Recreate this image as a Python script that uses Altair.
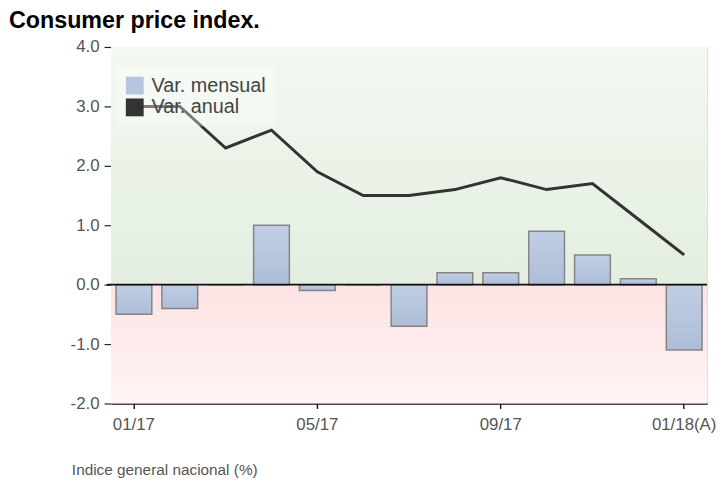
import altair as alt
import pandas as pd

months = ["01/17", "02/17", "03/17", "04/17", "05/17", "06/17", "07/17",
          "08/17", "09/17", "10/17", "11/17", "12/17", "01/18(A)"]
monthly = [-0.5, -0.4, 0.0, 1.0, -0.1, 0.0, -0.7, 0.2, 0.2, 0.9, 0.5, 0.1, -1.1]
annual = [3.0, 3.0, 2.3, 2.6, 1.9, 1.5, 1.5, 1.6, 1.8, 1.6, 1.7, 1.1, 0.5]
series = ["Var. mensual", "Var. anual"]
series_colors = ["#b7c6de", "#333333"]
shown_ticks = ["01/17", "05/17", "09/17", "01/18(A)"]
y_ticks = [-2, -1, 0, 1, 2, 3, 4]
zone_lo = [0, -2]
zone_hi = [4, 0]
zone_name = ["pos", "neg"]

W, H = 602, 360
FONT = "Liberation Sans"

df = pd.DataFrame({"month": months, "monthly": monthly, "annual": annual})
zones = pd.DataFrame({"lo": zone_lo, "hi": zone_hi, "zone": zone_name})
leg = pd.DataFrame({"series": series})
zero = pd.DataFrame({"v": [0]})

yscale = alt.Scale(domain=[-2, 4], nice=False)
yaxis = alt.Axis(values=y_ticks, domain=False, grid=False,
                 labelExpr="replace(format(datum.value, '.1f'), '\u2212', '-')",
                 tickSize=7, tickColor="#222", tickWidth=1.2,
                 labelPadding=5, labelColor="#555", labelFontSize=17,
                 labelFont=FONT, title=None)

xaxis = alt.Axis(values=shown_ticks, labelAngle=0, domainColor="#111",
                 domainWidth=1.6, tickColor="#111", tickWidth=1.4, tickSize=5,
                 labelPadding=8, labelColor="#555", labelFontSize=17,
                 labelFont=FONT, grid=False,
                 title="Indice general nacional (%)", titleFont=FONT,
                 titleFontSize=15.5, titleFontWeight="normal", titleColor="#555",
                 titleAnchor="start", titleAlign="left", titleBaseline="alphabetic",
                 titleX=-40, titleY=72)
xenc = alt.X("month:O", sort=months,
             scale=alt.Scale(paddingInner=0.22, paddingOuter=0.11), axis=xaxis)

green = alt.Gradient(gradient="linear",
                     stops=[alt.GradientStop(color="#f3f8f1", offset=0),
                            alt.GradientStop(color="#e3eee0", offset=1)],
                     x1=0, x2=0, y1=0, y2=1)
pink = alt.Gradient(gradient="linear",
                    stops=[alt.GradientStop(color="#fde3e3", offset=0),
                           alt.GradientStop(color="#fff4f4", offset=1)],
                    x1=0, x2=0, y1=0, y2=1)
barfill = alt.Gradient(gradient="linear",
                       stops=[alt.GradientStop(color="#c0cee5", offset=0),
                              alt.GradientStop(color="#aebdd7", offset=1)],
                       x1=0, x2=0, y1=0, y2=1)

base_z = alt.Chart(zones)
bg_pos = base_z.transform_filter(alt.datum.zone == "pos").mark_rect(color=green).encode(
    y=alt.Y("lo:Q", scale=yscale, axis=yaxis), y2="hi:Q",
    x=alt.value(0), x2=alt.value(W))
bg_neg = base_z.transform_filter(alt.datum.zone == "neg").mark_rect(color=pink).encode(
    y=alt.Y("lo:Q", scale=yscale, axis=yaxis), y2="hi:Q",
    x=alt.value(0), x2=alt.value(W))

zline = alt.Chart(zero).mark_rule(color="#111", strokeWidth=1.6).encode(
    y=alt.Y("v:Q", scale=yscale, axis=yaxis), x=alt.value(-4), x2=alt.value(W))

bars = alt.Chart(df).mark_bar(color=barfill, stroke="#858585", strokeWidth=1.5).encode(
    x=xenc, y=alt.Y("monthly:Q", scale=yscale, axis=yaxis), y2=alt.datum(0))

line = alt.Chart(df).mark_line(color="#333333", strokeWidth=3).encode(
    x=xenc, y=alt.Y("annual:Q", scale=yscale, axis=yaxis))

legend_layer = alt.Chart(leg).mark_square(opacity=0).encode(
    x=alt.value(0), y=alt.value(0),
    color=alt.Color("series:N", sort=series,
                    scale=alt.Scale(domain=series, range=series_colors),
                    legend=alt.Legend(orient="none", legendX=5, legendY=20,
                                      title=None, symbolType="square",
                                      symbolSize=324, symbolOpacity=1,
                                      symbolStrokeWidth=0, labelFont=FONT,
                                      labelFontSize=20, labelColor="#444",
                                      labelOffset=7, rowPadding=2, padding=9,
                                      fillColor="rgba(255,255,255,0.35)")))

chart = alt.layer(bg_pos, bg_neg, bars, zline, line, legend_layer).properties(
    width=W, height=H,
    autosize=alt.AutoSizeParams(type="none"),
    padding={"left": 104, "top": 37, "right": 10, "bottom": 85},
    title=alt.TitleParams("Consumer price index.", anchor="start", frame="group",
                          font=FONT, fontSize=23.5, fontWeight="bold", color="#000",
                          dx=-103, dy=25, offset=12, baseline="alphabetic"),
).configure_view(stroke=None).configure(background="white")

chart.save("out.html", embed_options={"renderer": "svg", "actions": False})
